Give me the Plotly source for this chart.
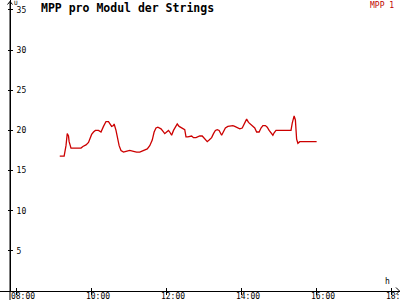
import plotly.graph_objects as go

# ---- data ----
title = "MPP pro Modul der Strings"
series_name = "MPP 1"
x_unit = "h"
y_unit = "U"
times = ["09:10", "09:17", "09:20", "09:22", "09:24", "09:25", "09:28", "09:44", "09:47", "09:52",
         "09:56", "09:58", "10:01", "10:04", "10:07", "10:12", "10:16", "10:20", "10:24", "10:28",
         "10:31", "10:33", "10:36", "10:37", "10:40", "10:43", "10:45", "10:48", "10:52", "10:56",
         "11:02", "11:08", "11:13", "11:18", "11:24", "11:30", "11:34", "11:38", "11:41", "11:44",
         "11:47", "11:52", "11:55", "11:58", "12:01", "12:04", "12:06", "12:09", "12:12", "12:15",
         "12:18", "12:21", "12:27", "12:30", "12:32", "12:35", "12:41", "12:44", "12:48", "12:51",
         "12:54", "12:58", "13:00", "13:03", "13:06", "13:09", "13:13", "13:16", "13:19", "13:22",
         "13:25", "13:29", "13:32", "13:35", "13:39", "13:44", "13:47", "13:50", "13:54", "13:58",
         "14:02", "14:06", "14:09", "14:12", "14:16", "14:20", "14:22", "14:25", "14:29", "14:32",
         "14:35", "14:39", "14:42", "14:45", "14:49", "14:51", "14:53", "14:56", "15:02", "15:20",
         "15:22", "15:24", "15:25", "15:27", "15:28", "15:29", "15:31", "15:32", "15:34", "16:01"]
values = [16.8, 16.8, 18.1, 19.6, 19.3, 18.6, 17.8, 17.8, 18.0, 18.2,
          18.5, 19.0, 19.5, 19.8, 20.0, 20.0, 19.8, 20.5, 21.1, 21.1,
          20.7, 20.5, 20.6, 20.8, 20.0, 18.9, 18.1, 17.5, 17.3, 17.4,
          17.5, 17.4, 17.3, 17.3, 17.5, 17.7, 18.1, 18.8, 19.8, 20.3,
          20.4, 20.2, 19.9, 19.6, 19.8, 20.0, 19.8, 19.4, 20.0, 20.5,
          20.8, 20.5, 20.3, 20.1, 19.2, 19.2, 19.3, 19.1, 19.1, 19.2,
          19.3, 19.3, 19.1, 18.8, 18.6, 18.8, 19.1, 19.6, 20.0, 20.1,
          20.0, 19.4, 19.8, 20.3, 20.5, 20.6, 20.6, 20.5, 20.3, 20.2,
          20.3, 20.9, 21.4, 21.0, 20.7, 20.5, 20.3, 19.8, 19.8, 20.3,
          20.6, 20.6, 20.4, 20.0, 19.6, 19.4, 19.7, 20.0, 20.0, 20.0,
          20.9, 21.4, 21.8, 21.3, 20.0, 18.9, 18.4, 18.5, 18.6, 18.6]
x_ticks = ["08:00", "10:00", "12:00", "14:00", "16:00", "18:00"]
y_ticks = [5, 10, 15, 20, 25, 30, 35]
x_range = ["07:34:24", "18:14:24"]
y_range = [0, 36.24]

DAY = "2024-01-01 "
xs = [DAY + t for t in times]
xt = [DAY + t for t in x_ticks]
xr = [DAY + t for t in x_range]

W, H = 400, 300
PH = 291  # plot height in px
RED = "#cc0000"
FONT = "DejaVu Sans Mono"

def px(x):
    return x / W

def py(y):
    return (PH - y) / PH

fig = go.Figure()
fig.add_trace(go.Scatter(x=xs, y=values, mode="lines", name=series_name,
                         line=dict(color=RED, width=1.3), xaxis="x", yaxis="y",
                         showlegend=False, hoverinfo="skip"))
fig.add_trace(go.Scatter(x=[xs[0]], y=[values[0]], mode="lines", xaxis="x2", yaxis="y2",
                         showlegend=False, line=dict(width=0), hoverinfo="skip"))

axfont = dict(family=FONT, size=8, color="black")
fig.update_layout(
    width=W, height=H,
    margin=dict(l=0, r=0, t=0, b=H - PH, autoexpand=False),
    paper_bgcolor="white", plot_bgcolor="white",
    xaxis=dict(type="date", range=xr, domain=[0, 1], tickvals=xt, tickformat="%H:%M",
               showline=True, linecolor="black", linewidth=1, ticks="outside", ticklen=3,
               tickcolor="black", tickwidth=1, showgrid=False, zeroline=False,
               tickfont=axfont, ticklabelshift=7, ticklabeloverflow="allow",
               ticklabelstandoff=-6, anchor="y", automargin=False),
    xaxis2=dict(type="date", range=xr, overlaying="x", anchor="free", position=0, side="top",
                tickvals=xt, ticks="outside", ticklen=3, tickcolor="black", tickwidth=1,
                showticklabels=False, showline=False, showgrid=False, zeroline=False,
                automargin=False),
    yaxis=dict(range=y_range, domain=[0, 1], anchor="free", position=10 / W, side="right",
               tickvals=y_ticks, ticks="outside", ticklen=2, tickcolor="black", tickwidth=1,
               showline=True, linecolor="black", linewidth=1, showgrid=False, zeroline=False,
               tickfont=axfont, ticklabelstandoff=2, automargin=False),
    yaxis2=dict(range=y_range, overlaying="y", anchor="free", position=10 / W, side="left",
                tickvals=y_ticks, ticks="outside", ticklen=2, tickcolor="black", tickwidth=1,
                showticklabels=False, showline=False, showgrid=False, zeroline=False,
                automargin=False),
)

shapes = [
    # y-axis line extended below x-axis
    dict(type="line", xref="paper", yref="paper", x0=px(10), x1=px(10), y0=py(300), y1=py(1.5),
         line=dict(color="black", width=1)),
    # arrow heads
    dict(type="path", xref="paper", yref="paper",
         path=f"M {px(7.5)} {py(4.5)} L {px(10)} {py(1.5)} L {px(12.5)} {py(4.5)}",
         line=dict(color="black", width=1)),
    dict(type="path", xref="paper", yref="paper",
         path=f"M {px(396)} {py(287.5)} L {px(399.5)} {py(291)} L {px(396)} {py(294.5)}",
         line=dict(color="black", width=1)),
]
fig.update_layout(shapes=shapes)

fig.add_annotation(text=f"<b>{title}</b>", xref="paper", yref="paper", x=px(39), y=py(8),
                   xanchor="left", yanchor="middle", showarrow=False,
                   font=dict(family=FONT, size=11.5, color="black"))
fig.add_annotation(text=series_name, xref="paper", yref="paper", x=px(396), y=py(5),
                   xanchor="right", yanchor="middle", showarrow=False,
                   font=dict(family=FONT, size=8, color="#c00000"))
fig.add_annotation(text=x_unit, xref="paper", yref="paper", x=px(387), y=py(281.5),
                   xanchor="center", yanchor="middle", showarrow=False,
                   font=dict(family=FONT, size=8, color="black"))
fig.add_annotation(text=y_unit, xref="paper", yref="paper", x=px(15.5), y=py(3),
                   xanchor="center", yanchor="middle", showarrow=False,
                   font=dict(family=FONT, size=6, color="black"))

fig.write_html("out.html")
